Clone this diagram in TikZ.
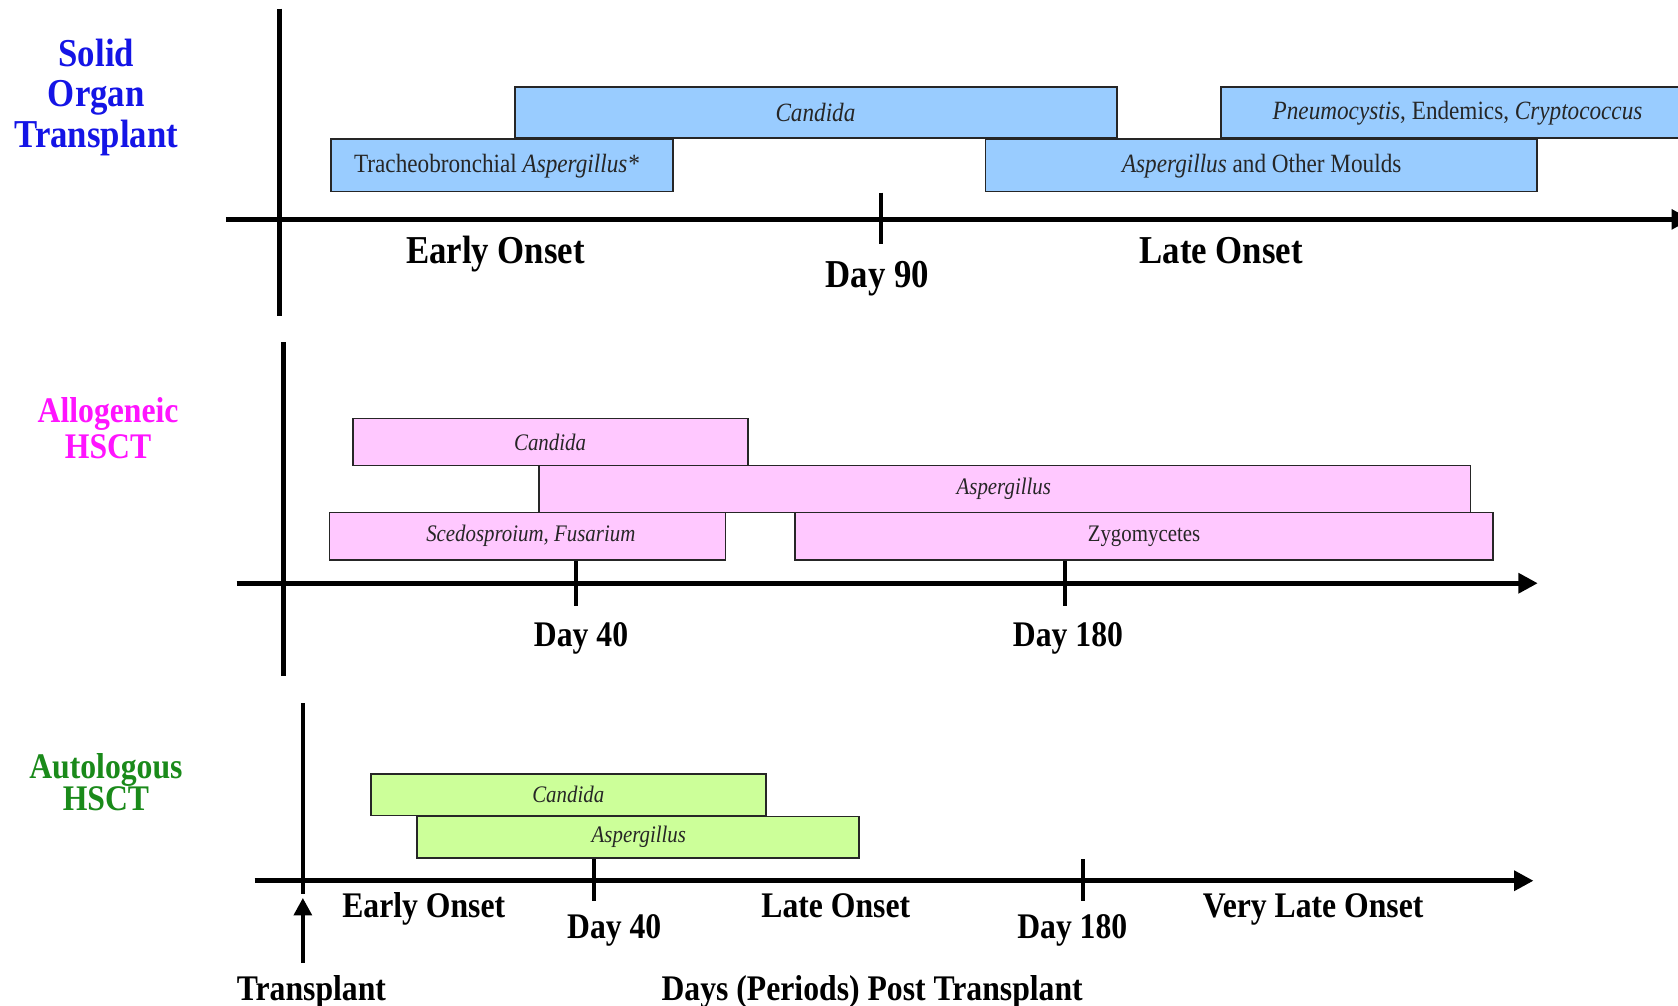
\documentclass[tikz,border=0pt]{standalone}
\usepackage{fontspec}
\setmainfont{Liberation Serif}[FakeStretch=0.88]
\usetikzlibrary{arrows.meta,fit}
\definecolor{sotfill}{HTML}{99CCFF}
\definecolor{allofill}{HTML}{FFC8FF}
\definecolor{autofill}{HTML}{CCFF99}
\definecolor{sotlbl}{HTML}{1414E6}
\definecolor{allolbl}{HTML}{FF14FF}
\definecolor{autolbl}{HTML}{1A8A1A}
\definecolor{bartxt}{HTML}{262626}
\tikzset{
  barbase/.style={draw=black!85, line width=1pt, inner sep=0pt},
  sotbar/.style={barbase, fill=sotfill},
  allobar/.style={barbase, fill=allofill},
  autobar/.style={barbase, fill=autofill},
  sottxt/.style={text=bartxt, inner sep=0pt, font=\fontsize{15}{17}\selectfont},
  bartext/.style={text=bartxt, inner sep=0pt, font=\fontsize{13.5}{15}\selectfont},
  haxis/.style={line width=3pt, -{Triangle[length=11pt,width=11pt]}},
  vaxis/.style={line width=2.5pt},
  tickmark/.style={line width=2.2pt},
  biglbl/.style={anchor=base, font=\bfseries\fontsize{22.5}{24}\selectfont},
  lbl/.style={anchor=base, font=\bfseries\fontsize{20.5}{22}\selectfont},
  sidelbl/.style 2 args={align=center, font=\bfseries\fontsize{#1}{#2}\selectfont},
}
\begin{document}
\begin{tikzpicture}[x=0.021404cm, y=-0.021404cm]
\useasboundingbox[fill=white] (0,0) rectangle (1568,940);

% ---------- Solid organ transplant ----------
\node[sidelbl={22.5}{23.1}, text=sotlbl] (sotlabel) at (90,91) {Solid\\Organ\\Transplant};
\coordinate (sotV1) at (261,8);
\coordinate (sotV2) at (261,295);
\coordinate (sotH1) at (211,205);
\coordinate (sotH2) at (1580,205);
\coordinate (sotT1) at (823,180);
\coordinate (sotT2) at (823,228);
\draw[vaxis] (sotV1) -- (sotV2);
\draw[haxis] (sotH1) -- (sotH2);
\draw[tickmark] (sotT1) -- (sotT2);
\node[sotbar, fit={(481,81) (1044,129)}] (sotcand) {};
\node[sotbar, fit={(1141,81) (1583,129)}] (sotpneu) {};
\node[sotbar, fit={(309,130) (629,179)}] (sottrach) {};
\node[sotbar, fit={(921,130) (1436,179)}] (sotasp) {};
\node[sottxt] (sotcandt) at (762,105) {\itshape Candida};
\node[sottxt] (sotpneut) at (1362,106) {\itshape Pneumocystis\upshape, Endemics, \itshape Cryptococcus};
\node[sottxt] (sottracht) at (464,155) {Tracheobronchial \itshape Aspergillus*};
\node[sottxt] (sotaspt) at (1179,155) {\itshape Aspergillus \upshape and Other Moulds};
\node[biglbl] (sotearly) at (463,246) {Early Onset};
\node[biglbl] (sotday90) at (820,269) {Day 90};
\node[biglbl] (sotlate) at (1141,246) {Late Onset};

% ---------- Allogeneic HSCT ----------
\node[sidelbl={20.5}{20.5}, text=allolbl] (allolabel) at (101,400) {Allogeneic\\HSCT};
\coordinate (alloV1) at (265,320);
\coordinate (alloV2) at (265,632);
\coordinate (alloH1) at (221,545);
\coordinate (alloH2) at (1437,545);
\coordinate (alloT1) at (538,523);
\coordinate (alloT2) at (538,566);
\coordinate (alloT3) at (995,523);
\coordinate (alloT4) at (995,566);
\draw[vaxis] (alloV1) -- (alloV2);
\draw[haxis] (alloH1) -- (alloH2);
\draw[tickmark] (alloT1) -- (alloT2);
\draw[tickmark] (alloT3) -- (alloT4);
\node[allobar, fit={(330,391) (699,435)}] (allocand) {};
\node[allobar, fit={(504,435) (1374,479)}] (alloasp) {};
\node[allobar, fit={(308,479) (678,523)}] (allosced) {};
\node[allobar, fit={(743,479) (1395,523)}] (allozygo) {};
\node[bartext] (allocandt) at (514,413) {\itshape Candida};
\node[bartext] (alloaspt) at (938,457) {\itshape Aspergillus};
\node[bartext] (alloscedt) at (496,501) {\itshape Scedosproium, Fusarium};
\node[bartext] (allozygot) at (1069,501) {Zygomycetes};
\node[lbl] (alloday40) at (543,604) {Day 40};
\node[lbl] (alloday180) at (998,604) {Day 180};

% ---------- Autologous HSCT ----------
\node[sidelbl={20.5}{18.5}, text=autolbl] (autolabel) at (99,731) {Autologous\\HSCT};
\coordinate (autoV1) at (283,657);
\coordinate (autoV2) at (283,835);
\coordinate (autoH1) at (238,823);
\coordinate (autoH2) at (1433,823);
\coordinate (autoT1) at (555,803);
\coordinate (autoT2) at (555,842);
\coordinate (autoT3) at (1012,803);
\coordinate (autoT4) at (1012,842);
\coordinate (txA) at (283,900);
\coordinate (txB) at (283,839);
\draw[vaxis] (autoV1) -- (autoV2);
\draw[haxis] (autoH1) -- (autoH2);
\draw[tickmark] (autoT1) -- (autoT2);
\draw[tickmark] (autoT3) -- (autoT4);
\draw[line width=2.5pt, -{Triangle[length=10pt,width=10pt]}] (txA) -- (txB);
\node[autobar, fit={(347,723) (716,762)}] (autocand) {};
\node[autobar, fit={(390,763) (803,802)}] (autoasp) {};
\node[bartext] (autocandt) at (531,742) {\itshape Candida};
\node[bartext] (autoaspt) at (597,782) {\itshape Aspergillus};
\node[lbl] (autoearly) at (396,857) {Early Onset};
\node[lbl] (autoday40) at (574,877) {Day 40};
\node[lbl] (autolate) at (781,857) {Late Onset};
\node[lbl] (autoday180) at (1002,877) {Day 180};
\node[lbl] (autovlate) at (1227,857) {Very Late Onset};
\node[lbl] (transplant) at (291,935) {Transplant};
\node[lbl] (dayspost) at (815,935) {Days (Periods) Post Transplant};
\end{tikzpicture}
\end{document}
